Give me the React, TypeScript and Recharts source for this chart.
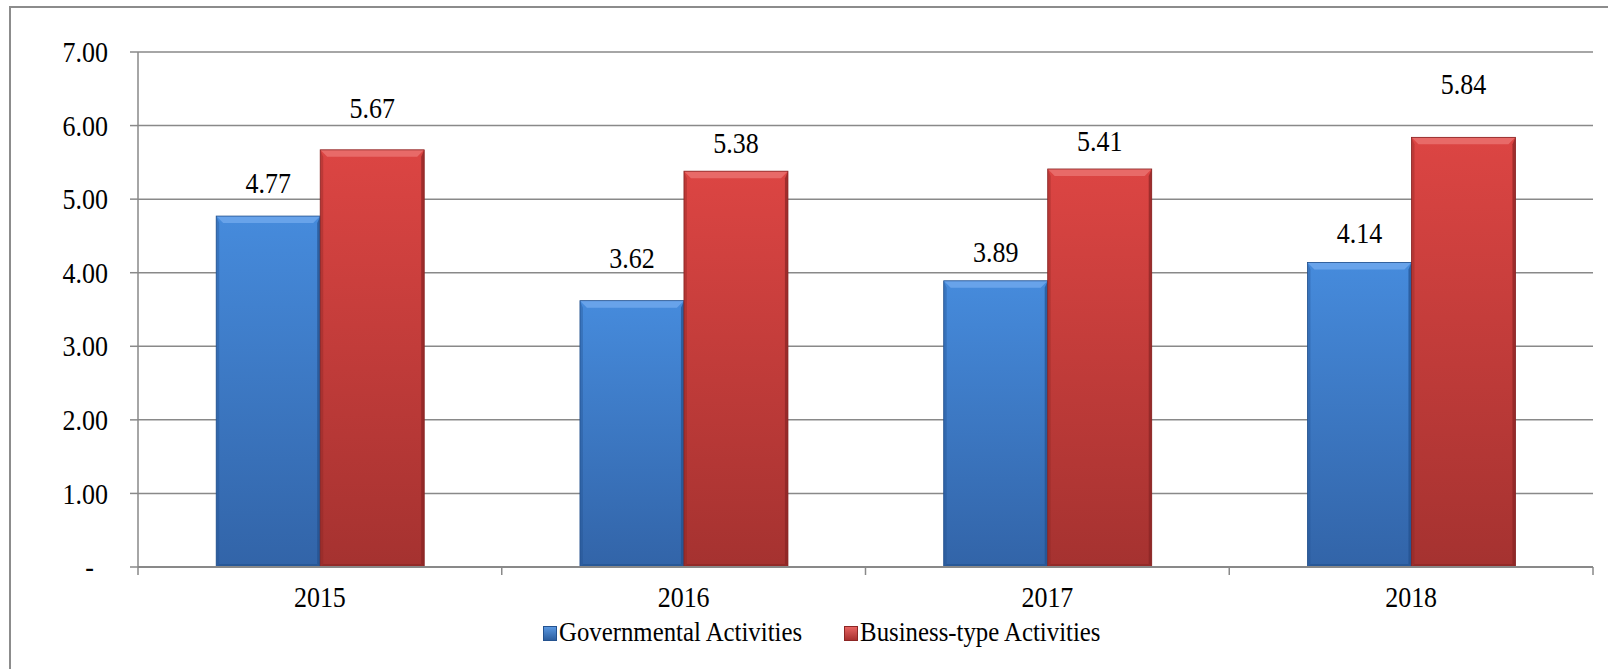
import { BarChart, Bar, XAxis, YAxis, CartesianGrid, LabelList } from "recharts";

const years = ["2015", "2016", "2017", "2018"];
const governmental = [4.77, 3.62, 3.89, 4.14];
const businessType = [5.67, 5.38, 5.41, 5.84];
const yTicks = [0, 1, 2, 3, 4, 5, 6, 7];
// distance between bar top and label baseline; the source labels were nudged by hand
const govLabelGap = [23, 33, 19, 19];
const busLabelGap = [32, 18, 18, 43];

const data = years.map((year, i) => ({
  year,
  governmental: governmental[i],
  business: businessType[i],
}));

const FONT = "'Liberation Serif', 'Times New Roman', serif";
const GRID = "#898989";
const PLOT_LEFT = 138;
const PLOT_RIGHT = 1593;
const STRETCH = 1.14; // the source text is a bit taller than plain Times
const textStyle = { fontFamily: FONT, fontSize: 26, fill: "#000" };

// bar with a bevelled look, like the office "3D" style
const bevelShape = (grad: string, light: string, dark: string) => (props: any) => {
  const { x, y, width: w, height: h } = props;
  if (!w || !h) return null;
  const b = Math.min(7, h / 2);
  const s = 3;
  return (
    <g>
      <rect x={x} y={y} width={w} height={h} fill={`url(#${grad})`} />
      <polygon points={`${x},${y} ${x + w},${y} ${x + w - b},${y + b} ${x + b},${y + b}`} fill={light} />
      <polygon points={`${x},${y} ${x + s},${y + b} ${x + s},${y + h - s} ${x},${y + h}`} fill={dark} opacity={0.35} />
      <polygon points={`${x + w},${y} ${x + w - s},${y + b} ${x + w - s},${y + h - s} ${x + w},${y + h}`} fill={dark} opacity={0.7} />
      <polygon points={`${x},${y + h} ${x + s},${y + h - s} ${x + w - s},${y + h - s} ${x + w},${y + h}`} fill={dark} opacity={0.6} />
      <rect x={x} y={y} width={w} height={h} fill="none" stroke={dark} strokeWidth={0.8} />
    </g>
  );
};

// text drawn at (x, y) baseline, stretched vertically
const Tall = ({ x, y, anchor = "middle", children, central = false }: any) => (
  <text
    transform={`translate(${x},${y}) scale(1,${STRETCH})`}
    textAnchor={anchor}
    dominantBaseline={central ? "central" : undefined}
    style={textStyle}
  >
    {children}
  </text>
);

const YTick = (props: any) => {
  const { x, y, payload } = props;
  const v = payload.value;
  return (
    <Tall x={v === 0 ? x - 14 : x} y={y} anchor="end" central>
      {v === 0 ? "-" : v.toFixed(2)}
    </Tall>
  );
};

// category label plus the small tick marks on the category boundaries
const XTick = (props: any) => {
  const { x, y, payload, index, visibleTicksCount } = props;
  const half = payload.offset || (PLOT_RIGHT - PLOT_LEFT) / years.length / 2;
  const axisY = y - 25;
  return (
    <g>
      <line x1={x - half} x2={x - half} y1={axisY} y2={axisY + 8} stroke={GRID} strokeWidth={1.5} />
      {index === (visibleTicksCount ?? years.length) - 1 && (
        <line x1={x + half} x2={x + half} y1={axisY} y2={axisY + 8} stroke={GRID} strokeWidth={1.5} />
      )}
      <Tall x={x} y={axisY + 40}>
        {payload.value}
      </Tall>
    </g>
  );
};

const makeLabel = (gaps: number[]) => (props: any) => {
  const { x, y, width, value, index } = props;
  return <Tall x={x + width / 2} y={y - (gaps[index] ?? 23)}>{Number(value).toFixed(2)}</Tall>;
};

const LegendIcon = ({ from, to, edge }: { from: string; to: string; edge: string }) => (
  <span
    style={{
      display: "inline-block",
      width: 12,
      height: 13,
      background: `linear-gradient(${from}, ${to})`,
      border: `1px solid ${edge}`,
      marginRight: 2,
      verticalAlign: "middle",
      position: "relative",
      top: -1,
    }}
  />
);

const legendText = { display: "inline-block", transform: `scaleY(${STRETCH})` };

export default function App() {
  return (
    <div style={{ position: "fixed", left: 0, top: 0, width: 1608, height: 669, background: "#fff", fontFamily: FONT }}>
      <div
        style={{
          position: "absolute",
          left: 9,
          top: 6,
          width: 1640,
          height: 700,
          border: "2px solid #8c8c8c",
          boxSizing: "border-box",
        }}
      />
      <div style={{ position: "absolute", left: 0, top: 0 }}>
        <BarChart
          width={1608}
          height={669}
          data={data}
          margin={{ top: 52, right: 1608 - PLOT_RIGHT, left: 8, bottom: 62 }}
          barCategoryGap="21.5%"
          barGap={0}
        >
          <defs>
            <linearGradient id="gBlue" x1="0" y1="0" x2="0" y2="1">
              <stop offset="0%" stopColor="#468bdc" />
              <stop offset="100%" stopColor="#3264a8" />
            </linearGradient>
            <linearGradient id="gRed" x1="0" y1="0" x2="0" y2="1">
              <stop offset="0%" stopColor="#dc4543" />
              <stop offset="100%" stopColor="#a53230" />
            </linearGradient>
          </defs>
          <CartesianGrid horizontal vertical={false} stroke={GRID} strokeWidth={1.5} />
          <XAxis
            dataKey="year"
            height={40}
            tickLine={false}
            axisLine={{ stroke: GRID, strokeWidth: 2 }}
            tickSize={0}
            tickMargin={25}
            tick={<XTick />}
          />
          <YAxis
            width={PLOT_LEFT - 8}
            domain={[0, 7]}
            ticks={yTicks}
            interval={0}
            tickSize={8}
            tickMargin={22}
            tick={<YTick />}
            tickLine={{ stroke: GRID, strokeWidth: 1.5 }}
            axisLine={{ stroke: GRID, strokeWidth: 1.5 }}
          />
          <Bar
            dataKey="governmental"
            name="Governmental Activities"
            isAnimationActive={false}
            shape={bevelShape("gBlue", "#68a3ea", "#22508c")}
          >
            <LabelList dataKey="governmental" content={makeLabel(govLabelGap)} />
          </Bar>
          <Bar
            dataKey="business"
            name="Business-type Activities"
            isAnimationActive={false}
            shape={bevelShape("gRed", "#e86a68", "#872423")}
          >
            <LabelList dataKey="business" content={makeLabel(busLabelGap)} />
          </Bar>
        </BarChart>
      </div>
      <div
        style={{
          position: "absolute",
          left: 543,
          top: 618,
          fontSize: 24.8,
          color: "#000",
          whiteSpace: "nowrap",
        }}
      >
        <LegendIcon from="#5a97e0" to="#2d5f9f" edge="#24528f" />
        <span style={{ ...legendText, marginRight: 42 }}>Governmental Activities</span>
        <LegendIcon from="#e66361" to="#a8302f" edge="#8c2624" />
        <span style={legendText}>Business-type Activities</span>
      </div>
    </div>
  );
}
